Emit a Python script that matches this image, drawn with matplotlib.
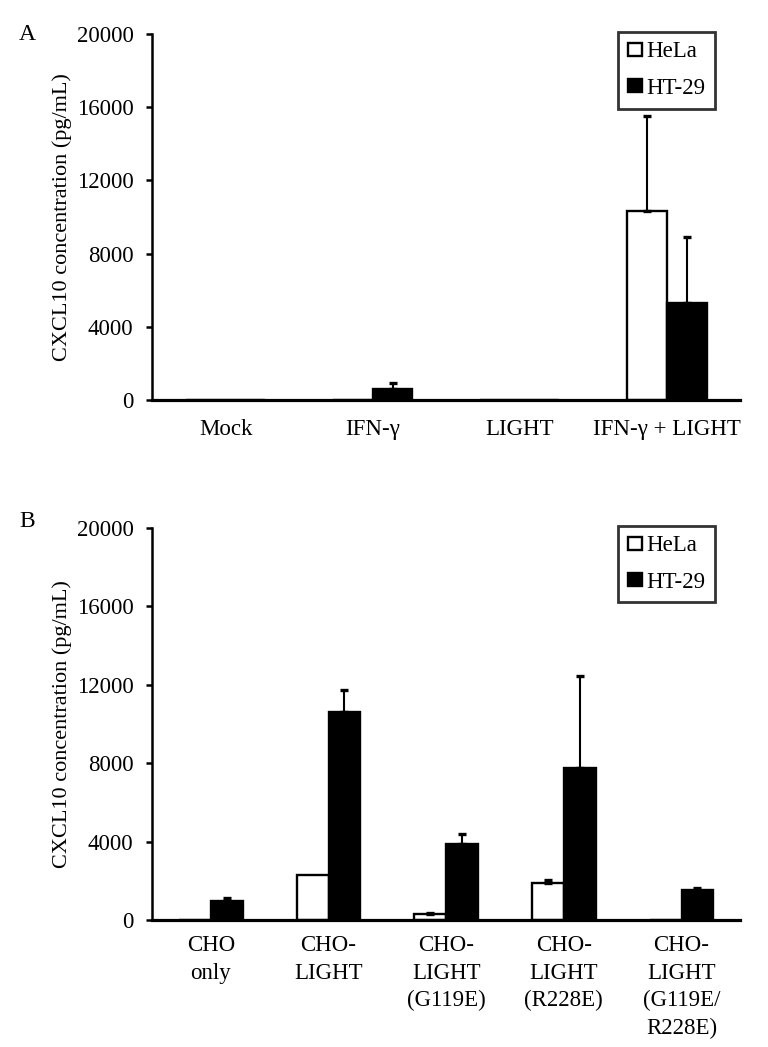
import numpy as np
import matplotlib
matplotlib.use("Agg")
import matplotlib.pyplot as plt

plt.rcParams['font.family'] = ['Liberation Serif', 'DejaVu Serif']

# Panel A data
cats_a = ["Mock", "IFN-\u03b3", "LIGHT", "IFN-\u03b3 + LIGHT"]
hela_a = [0, 0, 0, 10300]
hela_a_err = [0, 0, 0, 5200]
ht29_a = [0, 620, 0, 5300]
ht29_a_err = [0, 300, 0, 3600]

# Panel B data
cats_b = ["CHO\nonly", "CHO-\nLIGHT", "CHO-\nLIGHT\n(G119E)", "CHO-\nLIGHT\n(R228E)",
          "CHO-\nLIGHT\n(G119E/\nR228E)"]
hela_b = [0, 2300, 290, 1870, 0]
hela_b_err = [0, 0, 50, 170, 0]
ht29_b = [970, 10600, 3860, 7750, 1530]
ht29_b_err = [170, 1150, 510, 4710, 120]

yticks = [0, 4000, 8000, 12000, 16000, 20000]
ylab = "CXCL10 concentration (pg/mL)"
W = 0.27
FS = 16.5


def draw_err(ax, x, vals, errs):
    x = np.asarray(x)
    vals = np.asarray(vals)
    errs = np.asarray(errs)
    m = errs > 0
    ax.errorbar(x[m], vals[m], yerr=[np.zeros(m.sum()), errs[m]], fmt='none',
                ecolor='black', elinewidth=1.5, capsize=3.2, capthick=2.4, zorder=3)


def draw_panel(ax, cats, hela, hela_err, ht29, ht29_err, xpad):
    x = np.arange(len(cats))
    ax.bar(x - W / 2, hela, W, color='white', edgecolor='black', linewidth=1.7,
           label='HeLa', zorder=2)
    ax.bar(x + W / 2, ht29, W, color='black', edgecolor='black', linewidth=1.7,
           label='HT-29', zorder=2)
    draw_err(ax, x - W / 2, hela, hela_err)
    draw_err(ax, x + W / 2, ht29, ht29_err)

    ax.set_xlim(-0.5, len(cats) - 0.5)
    ax.set_ylim(0, 20000)
    ax.set_yticks(yticks)
    ax.set_yticklabels([str(t) for t in yticks])
    ax.set_xticks(x)
    ax.set_xticklabels(cats, linespacing=1.4)
    ax.tick_params(axis='x', length=0, pad=xpad, labelsize=FS)
    ax.tick_params(axis='y', length=4.3, width=1.8, pad=9, labelsize=FS, direction='out')
    for s in ['top', 'right']:
        ax.spines[s].set_visible(False)
    ax.spines['left'].set_linewidth(1.8)
    ax.spines['bottom'].set_linewidth(2.3)
    ax.spines['bottom'].set_zorder(4)
    ax.set_ylabel(ylab, fontsize=16)
    ax.yaxis.label.set_va('center')
    ax.yaxis.set_label_coords(-0.153, 0.5)
    leg = ax.legend(loc='upper right', bbox_to_anchor=(0.957, 1.006), borderaxespad=0,
                    fontsize=FS, fancybox=False, handlelength=0.6, handleheight=0.5,
                    handletextpad=0.2, labelspacing=0.68, borderpad=0.42)
    leg.get_frame().set_edgecolor('black')
    leg.get_frame().set_linewidth(2.0)


fig = plt.figure(figsize=(7.68, 10.47), dpi=100)
ax_a = fig.add_axes([0.198, 0.618, 0.766, 0.3496])
ax_b = fig.add_axes([0.198, 0.1213, 0.766, 0.3744])

draw_panel(ax_a, cats_a, hela_a, hela_a_err, ht29_a, ht29_a_err, 14)
draw_panel(ax_b, cats_b, hela_b, hela_b_err, ht29_b, ht29_b_err, 11)

fig.text(0.025, 0.962, "A", fontsize=17, va='baseline')
fig.text(0.025, 0.4966, "B", fontsize=17, va='baseline')

plt.savefig("out.png", dpi=100)
plt.close()
